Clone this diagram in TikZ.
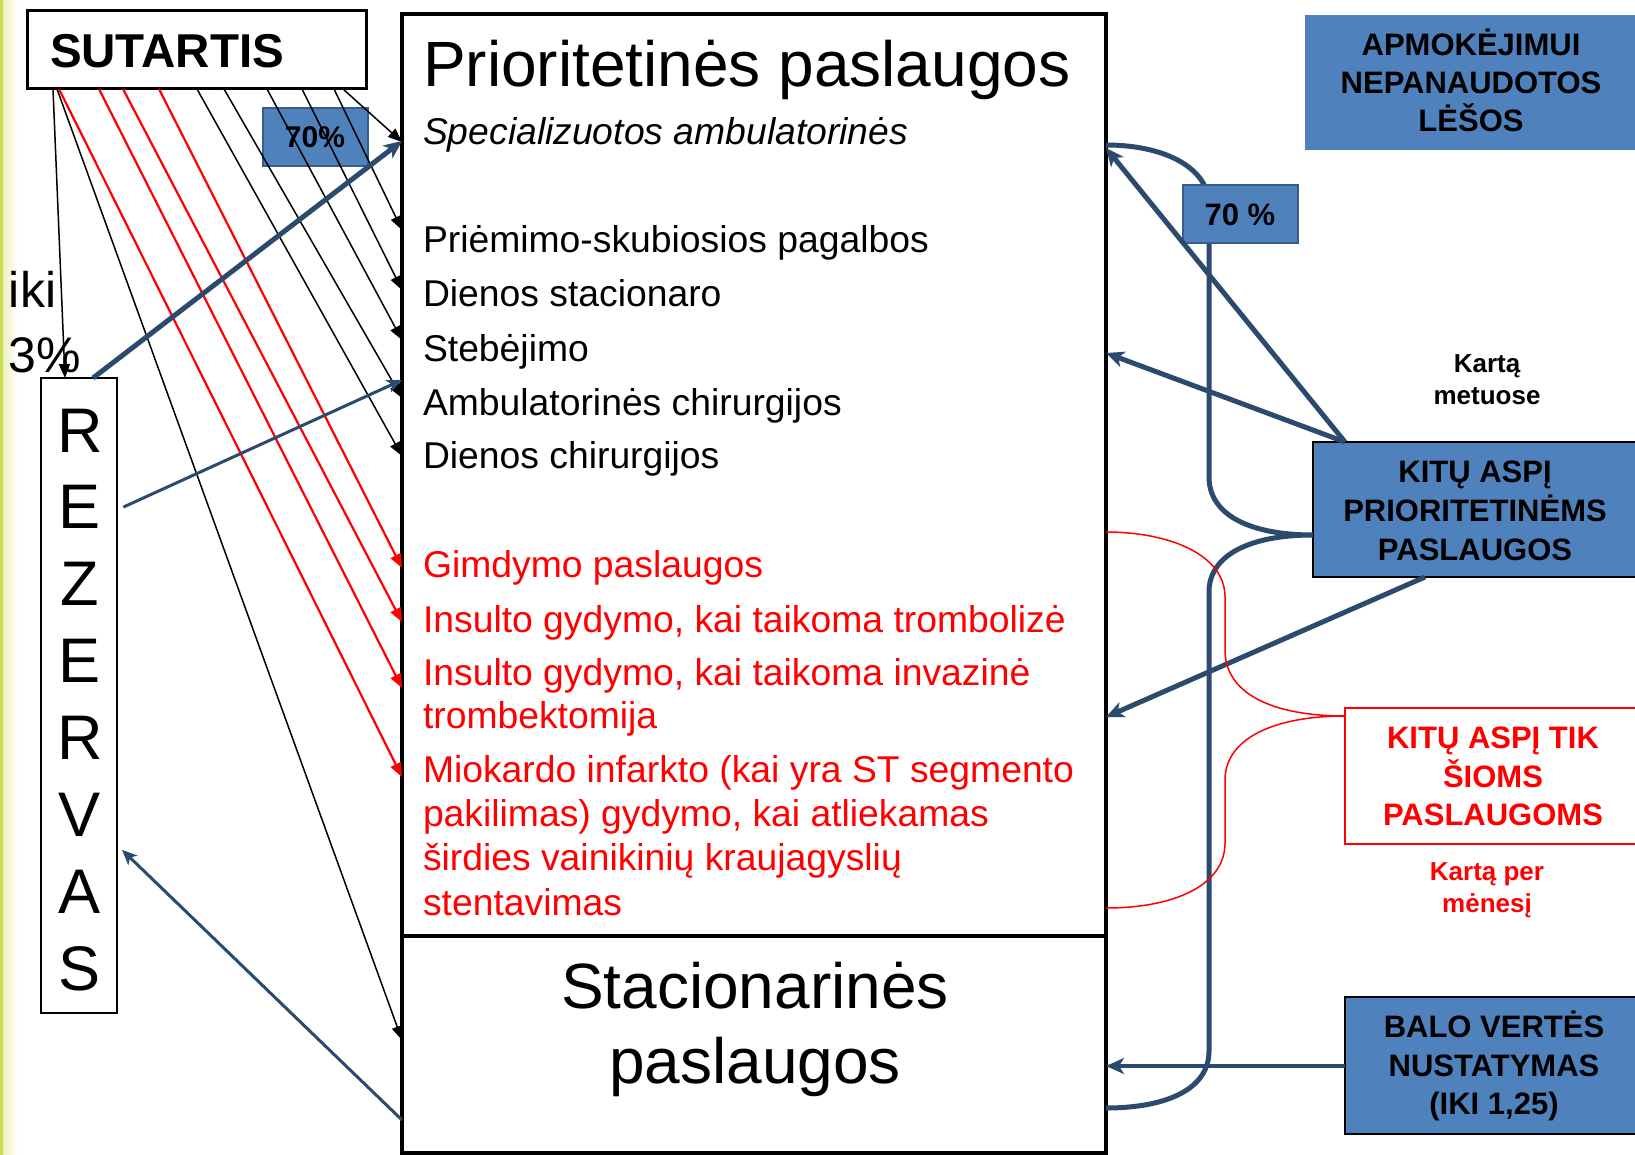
\documentclass[tikz,border=0pt]{standalone}
\usepackage{fontspec}
\setmainfont{Liberation Sans}
\usetikzlibrary{arrows.meta}
\definecolor{navy}{RGB}{44,74,110}
\definecolor{boxblue}{RGB}{79,129,189}
\definecolor{boxedge}{RGB}{56,93,138}
\definecolor{limestrip}{RGB}{205,220,80}
\newcommand{\setfs}[1]{\fontsize{#1}{#1}\selectfont}
\tikzset{
  box/.style={draw, inner sep=0pt, outer sep=0pt, anchor=north west},
  txt/.style={inner sep=0pt, outer sep=0pt, anchor=base west},
  ctxt/.style={inner sep=0pt, outer sep=0pt, anchor=base},
  blk/.style={draw=black, line width=1.5pt, -{Triangle[length=14pt,width=11pt]}},
  redarr/.style={draw=red, line width=2.2pt, -{Triangle[length=14pt,width=11pt]}},
  bluethick/.style={draw=navy, line width=5pt, -{Stealth[length=18pt,width=16pt,inset=5pt]}},
  bluethin/.style={draw=navy, line width=3pt, -{Stealth[length=15pt,width=13pt,inset=4pt]}},
  bracepath/.style={draw=navy, line width=5pt},
  redbrace/.style={draw=red, line width=1.5pt},
  bigtext/.style={font=\setfs{64}},
  midtext/.style={font=\setfs{37.3}},
  boldtext/.style={font=\bfseries\setfs{31}},
  smallbold/.style={font=\bfseries\setfs{26}},
}
\begin{document}
\begin{tikzpicture}[x=1pt,y=-1pt]
\useasboundingbox (0,0) rectangle (1635,1155);
\fill[white] (0,0) rectangle (1635,1155);
\shade[left color=limestrip!35, right color=white] (3,0) rectangle (18,1155);
\fill[limestrip] (0,0) rectangle (3,1155);

% ---- boxes ----
\node[box, line width=3pt, minimum width=339pt, minimum height=78pt] (sut) at (27,11) {};
\node[box, line width=1.5pt, minimum width=76pt, minimum height=635pt] (rez) at (41,378) {};
\node[box, line width=4pt, minimum width=704pt, minimum height=922pt] (prio) at (402,14) {};
\node[box, line width=4pt, minimum width=704pt, minimum height=217pt] (stac) at (402,936) {};
\node[box, fill=boxblue, draw=boxedge, line width=1.5pt, minimum width=105pt, minimum height=58pt] (pctL) at (263,108) {};
\node[box, fill=boxblue, draw=none, minimum width=335pt, minimum height=135pt] (apm) at (1305,15) {};
\node[box, fill=boxblue, draw=black, line width=2pt, minimum width=330pt, minimum height=135pt] (kitu) at (1313,442) {};
\node[box, fill=white, draw=red, line width=2pt, minimum width=300pt, minimum height=136pt] (tik) at (1345,708) {};
\node[box, fill=boxblue, draw=black, line width=2pt, minimum width=300pt, minimum height=137pt] (balo) at (1345,997) {};

% ---- left texts ----
\node[txt, font=\bfseries\setfs{47.5}] (sutt) at (50,68) {SUTARTIS};
\node[txt, font=\setfs{50}] (iki) at (9,308) {iki};
\node[txt, font=\setfs{50}] (proc) at (9,373) {3\%};
\foreach \l [count=\i] in {R,E,Z,E,R,V,A,S}
  \node[ctxt, font=\setfs{63}] (rz\i) at (80,{452+76.9*(\i-1)}) {\l};
\node[ctxt, font=\bfseries\setfs{30}] (pctLt) at (315,148) {70\%};

% ---- main box texts ----
\node[txt, bigtext] (title) at (423,87) {Prioritetinės paslaugos};
\node[txt, font=\itshape\setfs{37.3}] (spec) at (423,145) {Specializuotos ambulatorinės};
\node[txt, midtext] (b1) at (423,253) {Priėmimo-skubiosios pagalbos};
\node[txt, midtext] (b2) at (423,307) {Dienos stacionaro};
\node[txt, midtext] (b3) at (423,362) {Stebėjimo};
\node[txt, midtext] (b4) at (423,415) {Ambulatorinės chirurgijos};
\node[txt, midtext] (b5) at (423,468) {Dienos chirurgijos};
\begin{scope}[text=red]
\node[txt, midtext] (r1) at (423,577) {Gimdymo paslaugos};
\node[txt, midtext] (r2) at (423,632) {Insulto gydymo, kai taikoma trombolizė};
\node[txt, midtext] (r3) at (423,685) {Insulto gydymo, kai taikoma invazinė};
\node[txt, midtext] (r3b) at (423,728) {trombektomija};
\node[txt, midtext] (r4) at (423,782) {Miokardo infarkto (kai yra ST segmento};
\node[txt, midtext] (r4b) at (423,826) {pakilimas) gydymo, kai atliekamas};
\node[txt, midtext] (r4c) at (423,870) {širdies vainikinių kraujagyslių};
\node[txt, midtext] (r4d) at (423,915) {stentavimas};
\end{scope}
\node[ctxt, bigtext] (st1) at (755,1008) {Stacionarinės};
\node[ctxt, bigtext] (st2) at (755,1083) {paslaugos};

% ---- connectors from SUTARTIS ----
\draw[blk] (sut.south -| 53,0) -- (rez.north -| 65,0);
\draw[blk] (sut.south -| 57,0) -- (stac.west |- 0,1040);
\draw[redarr] (sut.south -| 59,0) -- (prio.west |- 0,777);
\draw[redarr] (sut.south -| 99,0) -- (prio.west |- 0,688);
\draw[redarr] (sut.south -| 123,0) -- (prio.west |- 0,622);
\draw[redarr] (sut.south -| 159,0) -- (prio.west |- 0,568);
\draw[blk] (sut.south -| 197,0) -- (prio.west |- 0,456);
\draw[blk] (sut.south -| 224,0) -- (prio.west |- 0,398);
\draw[blk] (sut.south -| 267,0) -- (prio.west |- 0,340);
\draw[blk] (sut.south -| 302,0) -- (prio.west |- 0,290);
\draw[blk] (sut.south -| 334,0) -- (prio.west |- 0,230);
\draw[blk] (sut.south -| 343,0) -- (prio.west |- 0,142);

% ---- REZERVAS connectors ----
\draw[bluethick] (rez.north -| 93,0) -- (prio.west |- 0,141);
\draw[bluethin, shorten <=7pt] (rez.east |- 0,510) -- (prio.west |- 0,380);
\draw[bluethin, shorten >=7pt] (stac.west |- 0,1120) -- (rez.east |- 0,845);

% ---- right side ----
\draw[bracepath] (prio.east |- 0,145) .. controls (1165,145) and (1209,168) .. (1209,205)
  -- (1209,477) .. controls (1209,515) and (1250,535) .. (kitu.west |- 0,535)
  .. controls (1250,535) and (1209,555) .. (1209,592)
  -- (1209,1051) .. controls (1209,1090) and (1165,1108) .. (stac.east |- 0,1108);
\node[box, fill=boxblue, draw=boxedge, line width=1.5pt, minimum width=115pt, minimum height=58pt] (pctR) at (1183,185) {};
\node[ctxt, boldtext] (pctRt) at (1240,226) {70 \%};

\draw[bluethick] (kitu.north -| 1345,0) -- (prio.east |- 0,148);
\draw[bluethick] (kitu.north -| 1345,0) -- (prio.east |- 0,353);
\draw[bluethick] (kitu.south -| 1425,0) -- (prio.east |- 0,717);
\draw[bluethick, line width=4pt] (balo.west |- 0,1066) -- (stac.east |- 0,1066);

\draw[redbrace] (prio.east |- 0,532) .. controls (1170,532) and (1225,555) .. (1225,597)
  -- (1225,650) .. controls (1225,695) and (1275,716) .. (tik.west |- 0,716)
  .. controls (1275,716) and (1225,738) .. (1225,780)
  -- (1225,843) .. controls (1225,885) and (1175,908) .. (prio.east |- 0,908);

\node[ctxt, boldtext] (a1) at (1471,56) {APMOKĖJIMUI};
\node[ctxt, boldtext] (a2) at (1471,94) {NEPANAUDOTOS};
\node[ctxt, boldtext] (a3) at (1471,132) {LĖŠOS};

\node[ctxt, smallbold] (km1) at (1487,372) {Kartą};
\node[ctxt, smallbold] (km2) at (1487,404) {metuose};

\node[ctxt, boldtext] (k1) at (1475,482) {KITŲ ASPĮ};
\node[ctxt, boldtext] (k2) at (1475,521) {PRIORITETINĖMS};
\node[ctxt, boldtext] (k3) at (1475,560) {PASLAUGOS};

\node[ctxt, boldtext, text=red] (t1) at (1493,748) {KITŲ ASPĮ TIK};
\node[ctxt, boldtext, text=red] (t2) at (1493,787) {ŠIOMS};
\node[ctxt, boldtext, text=red] (t3) at (1493,825) {PASLAUGOMS};

\node[ctxt, smallbold, text=red] (kp1) at (1487,880) {Kartą per};
\node[ctxt, smallbold, text=red] (kp2) at (1487,912) {mėnesį};

\node[ctxt, boldtext] (bv1) at (1494,1037) {BALO VERTĖS};
\node[ctxt, boldtext] (bv2) at (1494,1076) {NUSTATYMAS};
\node[ctxt, boldtext] (bv3) at (1494,1114) {(IKI 1,25)};
\end{tikzpicture}
\end{document}
